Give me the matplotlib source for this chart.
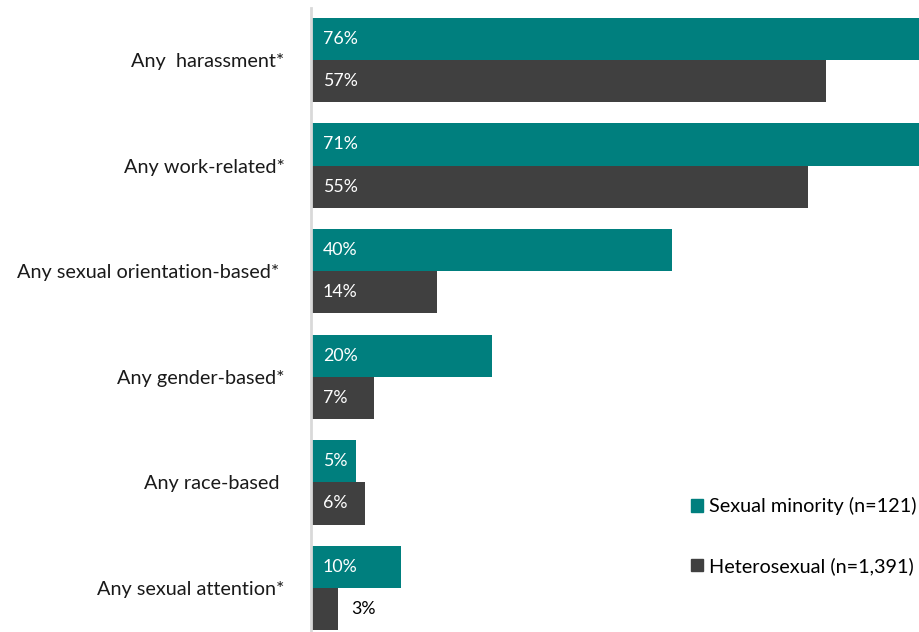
import matplotlib

matplotlib.use("Agg")

import matplotlib.pyplot as plt
from matplotlib.patches import Patch
import numpy as np

plt.rcParams["font.family"] = ["Lato", "DejaVu Sans"]

CATEGORIES = [
    "Any  harassment*",
    "Any work-related*",
    "Any sexual orientation-based* ",
    "Any gender-based*",
    "Any race-based ",
    "Any sexual attention*",
]
MINORITY_PCT = [76, 71, 40, 20, 5, 10]
HETERO_PCT = [57, 55, 14, 7, 6, 3]
SERIES_LABELS = ["Sexual minority (n=121)", "Heterosexual (n=1,391)"]

TEAL = "#007f7e"
DARK = "#404040"
BAR_H = 0.4

fig = plt.figure(figsize=(9.2, 6.32), dpi=100)
ax = fig.add_axes([311 / 920, 0, 609 / 920, 624 / 632])

y = np.arange(len(CATEGORIES))
ax.barh(y - BAR_H / 2, MINORITY_PCT, height=BAR_H, color=TEAL)
ax.barh(y + BAR_H / 2, HETERO_PCT, height=BAR_H, color=DARK)

ax.set_xlim(0, 67.4)
ax.set_ylim(5.417, -0.492)

# value labels sit just inside the bar base; very short bars get them outside
for offset, values in ((-BAR_H / 2, MINORITY_PCT), (BAR_H / 2, HETERO_PCT)):
    for yi, v in zip(y, values):
        if v >= 4:
            ax.text(1.3, yi + offset, f"{v}%", color="white", fontsize=12.8,
                    va="center", ha="left")
        else:
            ax.text(v + 1.5, yi + offset, f"{v}%", color="black", fontsize=12.8,
                    va="center", ha="left")

ax.set_yticks(y)
ax.set_yticklabels(CATEGORIES, fontsize=14.3, color="#1a1a1a")
ax.tick_params(axis="y", length=0, pad=19)
ax.set_xticks([])
for side in ("top", "right", "bottom"):
    ax.spines[side].set_visible(False)
ax.spines["left"].set_color("#d9d9d9")
ax.spines["left"].set_linewidth(2)

handles = [Patch(color=TEAL), Patch(color=DARK)]
fig.legend(handles, SERIES_LABELS, loc="center left",
           bbox_to_anchor=(681 / 920, 1 - 536 / 632), frameon=False,
           fontsize=14.3, handlelength=0.6, handleheight=0.6,
           handletextpad=0.3, labelspacing=2.1, borderpad=0)

fig.savefig("out.png", dpi=100)
